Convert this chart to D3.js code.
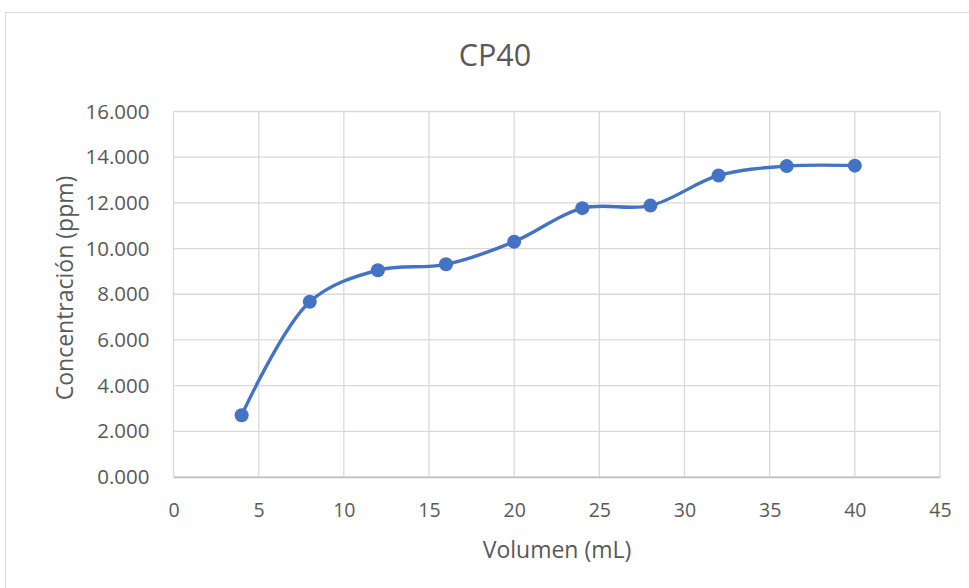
<!DOCTYPE html>
<html><head><meta charset="utf-8">
<script src="https://cdn.jsdelivr.net/npm/d3@7"></script>
<style>body{margin:0;background:#fff;font-family:"Open Sans","Liberation Sans",sans-serif;}</style>
</head><body>
<svg id="c" width="969" height="588"></svg>
<script>
const volumes = [4, 8, 12, 16, 20, 24, 28, 32, 36, 40];
const concentrations = [2.70, 7.67, 9.05, 9.31, 10.30, 11.77, 11.88, 13.20, 13.61, 13.63];
const xTicks = [0, 5, 10, 15, 20, 25, 30, 35, 40, 45];
const yTicks = [0, 2, 4, 6, 8, 10, 12, 14, 16];
const title = "CP40";
const xTitle = "Volumen (mL)";
const yTitle = "Concentración (ppm)";

const svg = d3.select("#c");
const W = 969, H = 588;
const m = {left: 173.5, right: 940, top: 111.5, bottom: 477};
svg.append("rect").attr("x", 5.5).attr("y", 12.5).attr("width", W - 5).attr("height", H).attr("fill", "#fff").attr("stroke", "#d9d9d9");

const x = d3.scaleLinear().domain([0, 45]).range([m.left, m.right]);
const y = d3.scaleLinear().domain([0, 16]).range([m.bottom, m.top]);

const grid = svg.append("g");
grid.selectAll(".h").data(yTicks).join("line")
  .attr("x1", m.left).attr("x2", m.right).attr("y1", d => y(d)).attr("y2", d => y(d))
  .attr("stroke", "#d9d9d9").attr("stroke-width", 1.3);
grid.selectAll(".v").data(xTicks).join("line")
  .attr("y1", m.top).attr("y2", m.bottom).attr("x1", d => x(d)).attr("x2", d => x(d))
  .attr("stroke", "#d9d9d9").attr("stroke-width", 1.3);

const xAxis = svg.append("g").attr("transform", `translate(0,${m.bottom})`)
  .call(d3.axisBottom(x).tickValues(xTicks).tickSize(0).tickPadding(0).tickFormat(d3.format("d")));
xAxis.select(".domain").attr("stroke", "#bfbfbf").attr("stroke-width", 1.3);
xAxis.selectAll("text").attr("fill", "#595959").attr("y", 40).attr("dy", 0)
  .style("font-size", "19.5px").style("font-family", "Open Sans, sans-serif");

const yAxis = svg.append("g").attr("transform", `translate(${m.left},0)`)
  .call(d3.axisLeft(y).tickValues(yTicks).tickSize(0).tickPadding(24).tickFormat(d => d3.format(".3f")(d)));
yAxis.select(".domain").remove();
yAxis.selectAll("text").attr("fill", "#595959").style("font-size", "20.5px").style("font-family", "Open Sans, sans-serif");

svg.append("text").attr("x", 495).attr("y", 66).attr("text-anchor", "middle")
  .attr("fill", "#595959").style("font-size", "30.5px").text(title);
svg.append("text").attr("x", 557).attr("y", 558).attr("text-anchor", "middle")
  .attr("fill", "#595959").style("font-size", "23px").text(xTitle);
svg.append("text").attr("transform", `translate(73,288) rotate(-90)`).attr("text-anchor", "middle")
  .attr("fill", "#595959").style("font-size", "23px").text(yTitle);

const data = volumes.map((v, i) => [v, concentrations[i]]);
const line = d3.line().x(d => x(d[0])).y(d => y(d[1])).curve(d3.curveCatmullRom.alpha(0.5));
svg.append("path").datum(data).attr("d", line).attr("fill", "none")
  .attr("stroke", "#4472C4").attr("stroke-width", 3.4).attr("stroke-linecap", "round");
svg.selectAll(".pt").data(data).join("circle")
  .attr("cx", d => x(d[0])).attr("cy", d => y(d[1])).attr("r", 7).attr("fill", "#4472C4");
</script>
</body></html>
